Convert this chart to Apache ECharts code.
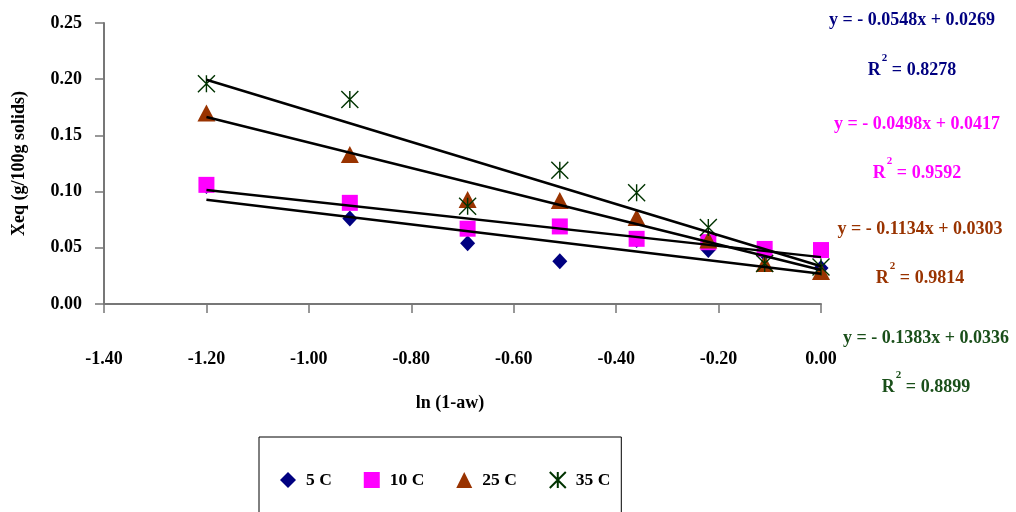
<!DOCTYPE html>
<html>
<head>
<meta charset="utf-8">
<script src="https://cdn.jsdelivr.net/npm/echarts@6/dist/echarts.min.js"></script>
<style>
html,body{margin:0;padding:0;background:#fff;}
#chart{width:1016px;height:512px;}
</style>
</head>
<body>
<div id="chart"></div>
<script>
// ---- data ----
const seriesNames = ['5 C', '10 C', '25 C', '35 C'];
const lnAw = [-1.20, -0.92, -0.69, -0.51, -0.36, -0.22, -0.11, 0.00];
const xeq5C  = [0.105, 0.076, 0.054, 0.038, 0.057, 0.048, 0.045, 0.032];
const xeq10C = [0.106, 0.090, 0.067, 0.069, 0.058, 0.055, 0.049, 0.048];
const xeq25C = [0.170, 0.133, 0.093, 0.092, 0.077, 0.057, 0.036, 0.029];
const xeq35C = [0.196, 0.182, 0.087, 0.119, 0.099, 0.068, 0.036, 0.033];
// trendline equations shown on the chart
const slopes = [-0.0548, -0.0498, -0.1134, -0.1383];
const intercepts = [0.0269, 0.0417, 0.0303, 0.0336];
const rSquared = ['0.8278', '0.9592', '0.9814', '0.8899'];

const FONT = "'Times New Roman', 'Liberation Serif', serif";
const colors = ['#000080', '#ff00ff', '#993300', '#003300'];
const textColors = ['#000080', '#ff00ff', '#993300', '#1a4f1a'];
const starPath = 'path://M0,0L16,16M16,0L0,16M8,0L8,16';
const symbols = ['diamond', 'rect', 'triangle', starPath];
const symbolSizes = [[15, 16], [16, 16], [18, 17], [17, 17]];
const allY = [xeq5C, xeq10C, xeq25C, xeq35C];

const series = [];
allY.forEach((ys, i) => {
  const isStar = i === 3;
  series.push({
    name: seriesNames[i],
    type: 'scatter',
    symbol: symbols[i],
    symbolSize: symbolSizes[i],
    z: 2,
    itemStyle: isStar
      ? { color: 'transparent', borderColor: colors[i], borderWidth: 1.4, opacity: 1 }
      : { color: colors[i], opacity: 1 },
    data: lnAw.map((x, k) => [x, ys[k]])
  });
});
const xMin = Math.min(...lnAw), xMax = Math.max(...lnAw);
slopes.forEach((m, i) => {
  series.push({
    name: 'trend ' + seriesNames[i],
    type: 'line',
    symbol: 'none',
    z: 5,
    silent: true,
    lineStyle: { color: '#000', width: 2.5 },
    data: [[xMin, m * xMin + intercepts[i]], [xMax, m * xMax + intercepts[i]]]
  });
});

// equation annotations (layout positions)
const eqPos = [[912, 20, 66], [917, 124, 169], [920, 229, 274], [926, 338, 383]];
const graphics = [];
slopes.forEach((m, i) => {
  const eq = 'y = - ' + Math.abs(m).toFixed(4) + 'x + ' + intercepts[i].toFixed(4);
  graphics.push({
    type: 'text', x: eqPos[i][0], y: eqPos[i][1],
    style: { text: eq, font: 'bold 18px ' + FONT, fill: textColors[i], align: 'center', verticalAlign: 'middle' }
  });
  graphics.push({
    type: 'text', x: eqPos[i][0], y: eqPos[i][2],
    style: {
      text: '{r|R}{s|2}{r| = ' + rSquared[i] + '}',
      align: 'center', verticalAlign: 'middle',
      rich: {
        r: { font: 'bold 18px ' + FONT, fill: textColors[i], verticalAlign: 'bottom' },
        s: { font: 'bold 11px ' + FONT, fill: textColors[i], padding: [0, 0, 15, 1], verticalAlign: 'bottom' }
      }
    }
  });
});

const chart = echarts.init(document.getElementById('chart'), null, { renderer: 'canvas' });
chart.setOption({
  animation: false,
  backgroundColor: '#fff',
  grid: { left: 104, right: 195, top: 23, bottom: 208, containLabel: false, outerBoundsMode: 'none' },
  xAxis: {
    type: 'value', min: -1.4, max: 0, interval: 0.2,
    name: 'ln (1-aw)', nameLocation: 'middle', nameGap: 90,
    nameTextStyle: { fontFamily: FONT, fontWeight: 'bold', fontSize: 18, color: '#000', padding: [0, 25, 0, 0] },
    axisLine: { onZero: false, lineStyle: { color: '#777', width: 2 } },
    axisTick: { show: true, inside: false, length: 9, lineStyle: { color: '#777', width: 1.5 } },
    axisLabel: { margin: 46, fontFamily: FONT, fontWeight: 'bold', fontSize: 18, color: '#000', formatter: v => v.toFixed(2) },
    splitLine: { show: false }
  },
  yAxis: {
    type: 'value', min: 0, max: 0.25, interval: 0.05,
    name: 'Xeq (g/100g solids)', nameLocation: 'middle', nameGap: 76,
    nameTextStyle: { fontFamily: FONT, fontWeight: 'bold', fontSize: 18, color: '#000' },
    axisLine: { show: true, onZero: false, lineStyle: { color: '#777', width: 2 } },
    axisTick: { show: true, inside: false, length: 9, lineStyle: { color: '#777', width: 1.5 } },
    axisLabel: { margin: 22, fontFamily: FONT, fontWeight: 'bold', fontSize: 18, color: '#000', formatter: v => v.toFixed(2) },
    splitLine: { show: false }
  },
  legend: {
    data: seriesNames.map((n, i) => ({ name: n, icon: symbols[i] })),
    left: 259, top: 437,
    orient: 'horizontal',
    itemWidth: 16, itemHeight: 16, itemGap: 32,
    borderColor: '#000', borderWidth: 1,
    padding: [34, 11, 60, 21],
    textStyle: { fontFamily: FONT, fontWeight: 'bold', fontSize: 17.5, color: '#000', padding: [0, 0, 0, 5] }
  },
  graphic: graphics,
  series: series
});
</script>
</body>
</html>
